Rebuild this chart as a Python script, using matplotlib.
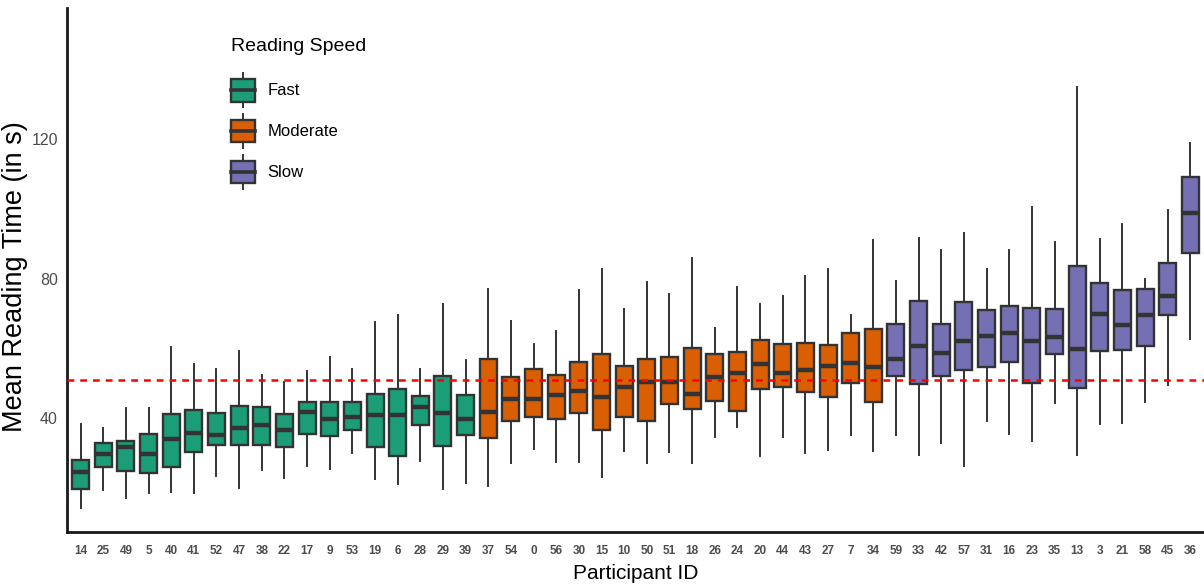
import numpy as np
import matplotlib
matplotlib.use("Agg")
import matplotlib.pyplot as plt
from matplotlib import font_manager as fm
from matplotlib.patches import Rectangle
from matplotlib.lines import Line2D
from matplotlib.legend_handler import HandlerBase

# participants in plot order, with speed group
participants = ["14", "25", "49", "5", "40", "41", "52", "47", "38", "22", "17", "9", "53", "19", "6", "28", "29", "39",
                "37", "54", "0", "56", "30", "15", "10", "50", "51", "18", "26", "24", "20", "44", "43", "27", "7", "34",
                "59", "33", "42", "57", "31", "16", "23", "35", "13", "3", "21", "58", "45", "36"]
groups = ["Fast"] * 18 + ["Moderate"] * 18 + ["Slow"] * 14

whisker_low = [14.3, 19.4, 17.1, 18.4, 18.7, 18.4, 23.4, 20.0, 25.1, 22.7, 26.3, 25.4, 30.1, 22.4, 21.1, 27.7, 19.6, 21.3,
               20.5, 27.2, 31.2, 27.3, 27.4, 23.2, 30.5, 27.2, 30.2, 27.2, 34.6, 37.4, 29.2, 34.6, 29.9, 30.9, 35.0, 30.6,
               35.1, 29.3, 32.9, 26.3, 39.2, 35.4, 33.5, 44.2, 29.3, 38.2, 38.5, 44.7, 49.4, 62.7]
q1 = [19.6, 26.0, 24.7, 24.3, 25.9, 30.2, 32.2, 32.2, 32.3, 31.6, 35.4, 34.8, 36.6, 31.7, 29.0, 38.1, 32.1, 35.1,
      34.3, 39.2, 40.4, 39.8, 41.5, 36.6, 40.4, 39.1, 43.9, 42.5, 44.9, 42.1, 48.2, 48.9, 47.5, 46.1, 50.1, 44.7,
      52.1, 49.7, 52.0, 53.8, 54.7, 56.1, 49.9, 58.3, 48.6, 59.1, 59.5, 60.6, 69.6, 87.2]
median = [24.4, 29.8, 31.6, 29.6, 34.0, 35.7, 35.1, 37.2, 37.9, 36.6, 41.8, 39.7, 40.2, 40.8, 40.8, 43.1, 41.4, 39.6,
          41.6, 45.4, 45.5, 46.6, 47.8, 45.9, 48.9, 50.3, 50.2, 46.8, 51.8, 53.0, 55.5, 52.8, 53.8, 54.9, 55.7, 54.7,
          56.9, 60.7, 58.7, 62.2, 63.4, 64.4, 62.0, 63.3, 59.9, 69.7, 66.7, 69.5, 74.9, 98.9]
q3 = [28.0, 32.9, 33.3, 35.4, 41.1, 42.3, 41.3, 43.5, 43.2, 41.1, 44.5, 44.7, 44.6, 46.9, 48.2, 46.4, 52.0, 46.6,
      56.8, 51.8, 54.1, 52.4, 56.1, 58.3, 54.9, 56.9, 57.6, 60.1, 58.4, 58.9, 62.4, 61.3, 61.5, 60.9, 64.4, 65.4,
      67.0, 73.5, 66.9, 73.3, 71.1, 72.0, 71.5, 71.3, 83.6, 78.6, 76.7, 76.9, 84.4, 109.2]
whisker_high = [38.2, 37.2, 43.0, 43.0, 60.4, 55.4, 54.1, 59.1, 52.3, 50.4, 53.6, 57.6, 54.0, 67.4, 69.5, 54.0, 72.7, 56.6,
                76.9, 67.7, 61.3, 65.0, 76.7, 82.6, 71.3, 78.9, 75.6, 85.8, 65.7, 77.6, 72.6, 75.0, 80.6, 82.6, 69.4, 91.0,
                79.2, 91.6, 88.3, 93.0, 82.8, 88.1, 100.4, 90.4, 134.8, 91.2, 95.7, 79.8, 99.6, 118.8]
overall_mean = 50.9

palette = {"Fast": "#1B9E77", "Moderate": "#D95F02", "Slow": "#7570B3"}
edge = "#333333"

# narrow font if we have one
installed = {f.name for f in fm.fontManager.ttflist}
narrow = "Liberation Sans Narrow" if "Liberation Sans Narrow" in installed else "Liberation Sans"
small = 0 if narrow == "Liberation Sans Narrow" else 1  # shrink a bit when only regular width


class BoxKey(HandlerBase):
    # legend key that looks like a little boxplot
    def create_artists(self, legend, orig_handle, xdescent, ydescent, width, height, fontsize, trans):
        x0, y0 = -xdescent, -ydescent
        cx = x0 + width / 2
        wl = Line2D([cx, cx], [y0, y0 + height], color=edge, linewidth=1.4, transform=trans)
        box = Rectangle((x0, y0 + 0.17 * height), width, 0.66 * height, facecolor=orig_handle.get_facecolor(),
                        edgecolor=edge, linewidth=1.7, transform=trans)
        med = Line2D([x0, x0 + width], [y0 + height / 2] * 2, color=edge, linewidth=2.6, transform=trans)
        return [wl, box, med]


fig = plt.figure(figsize=(12.04, 5.88), dpi=100)
ax = fig.add_axes([67 / 1204, 1 - 532 / 588, 1 - 67 / 1204, (532 - 8) / 588])

stats = []
for i in range(len(participants)):
    stats.append({"whislo": whisker_low[i], "q1": q1[i], "med": median[i],
                  "q3": q3[i], "whishi": whisker_high[i], "fliers": []})

bp = ax.bxp(stats, positions=np.arange(len(participants)), widths=0.75, patch_artist=True,
            showcaps=False, showfliers=False,
            boxprops=dict(edgecolor=edge, linewidth=1.7),
            whiskerprops=dict(color=edge, linewidth=1.4),
            medianprops=dict(color=edge, linewidth=3.2, solid_capstyle="butt"))
for patch, g in zip(bp["boxes"], groups):
    patch.set_facecolor(palette[g])

ax.axhline(overall_mean, color="#FF0000", linestyle=(0, (2.7, 2.4)), linewidth=1.8, zorder=5)

ax.set_xlim(-0.6, len(participants) - 0.4)
ax.set_ylim(7.3, 157.6)
ax.set_yticks([40, 80, 120])
ax.set_xticks(np.arange(len(participants)))
ax.set_xticklabels(participants, fontsize=9 - 0.5 * small, color="#4D4D4D", fontweight="bold", family=narrow)
for lab in ax.get_yticklabels():
    lab.set_fontsize(12.5 - 1 * small)
    lab.set_color("#4D4D4D")
    lab.set_family(narrow)
ax.tick_params(axis="both", length=0)
ax.tick_params(axis="x", pad=9)
ax.tick_params(axis="y", pad=6.5)

for s in ["top", "right"]:
    ax.spines[s].set_visible(False)
for s in ["left", "bottom"]:
    ax.spines[s].set_linewidth(2)
    ax.spines[s].set_color("#1A1A1A")

ax.set_xlabel("Participant ID", fontsize=17 - 2 * small, family=narrow)
ax.xaxis.set_label_coords(0.5, -0.061)
ax.set_ylabel("Mean Reading Time (in s)", fontsize=19.5, family="Liberation Sans")
ax.yaxis.set_label_coords(-0.034, 0.4876)

handles = [Rectangle((0, 0), 1, 1, facecolor=palette[g]) for g in ["Fast", "Moderate", "Slow"]]
leg = ax.legend(handles, ["Fast", "Moderate", "Slow"], title="Reading Speed",
                handler_map={Rectangle: BoxKey()},
                loc="upper left", bbox_to_anchor=(0.137, 0.958), frameon=False, borderpad=0,
                handlelength=1.45, handleheight=2.75, labelspacing=0.42, handletextpad=0.72,
                prop={"family": narrow, "size": 13 - 1 * small})
leg.get_title().set_fontsize(16 - 2 * small)
leg.get_title().set_family(narrow)
leg._legend_box.align = "left"
leg._legend_box.sep = 13

fig.savefig("out.png", dpi=100)
